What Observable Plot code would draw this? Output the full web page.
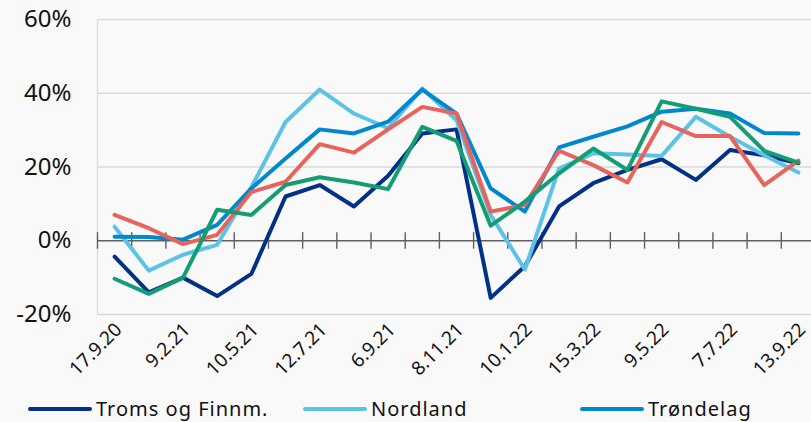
<!DOCTYPE html>
<html>
<head>
<meta charset="utf-8">
<script src="https://cdn.jsdelivr.net/npm/d3@7"></script>
<script src="https://cdn.jsdelivr.net/npm/@observablehq/plot@0.6"></script>
<style>
  html, body { margin: 0; padding: 0; background: #f9f9f9; overflow: hidden; }
  body { width: 811px; height: 422px; font-family: "Noto Sans", sans-serif; }
  #chart svg { display: block; }
  .legend { position: relative; height: 30px; font-size: 20px; line-height: 24px; color: #111; letter-spacing: 1px; }
  .item { position: absolute; top: 0; display: flex; align-items: center; white-space: nowrap; }
  .sw { width: 64px; height: 4px; border-radius: 2px; margin-right: 4px; }
</style>
</head>
<body>
<div id="chart"></div>
<div class="legend" id="legend"></div>
<script>
// Dates labelled on the axis (every second observation)
const tickLabels = ["17.9.20","9.2.21","10.5.21","12.7.21","6.9.21","8.11.21","10.1.22","15.3.22","9.5.22","7.7.22","13.9.22"];

// Series values (percent), 21 observations each
const tromsFinnmark = [-4.3, -14, -10, -15, -9, 12, 15.1, 9.3, 17.6, 29.1, 30.2, -15.5, -6.9, 9.3, 15.6, 19.2, 22.1, 16.5, 24.6, 23.2, 21];
const nordland      = [3.8, -8.1, -3.8, -1.1, 14.5, 32.2, 41, 34.5, 30.5, 41.3, 32.7, 7, -7.8, 19.6, 23.7, 23.4, 23, 33.6, 28.2, 23.2, 18.5];
const trondelag     = [1.1, 1.0, 0.3, 4.3, 14.2, 22.3, 30.2, 29.1, 32.3, 41, 34.5, 14.2, 7.9, 25.3, 28.2, 31, 35, 35.8, 34.5, 29.2, 29.1];
const serieRed      = [7.0, 3.4, -0.9, 1.6, 13.2, 16, 26.2, 23.9, 30.2, 36.3, 34.5, 7.9, 9.7, 24.4, 20.5, 15.8, 32.2, 28.4, 28.4, 15.1, 21.7];
const serieGreen    = [-10.3, -14.4, -10, 8.4, 7.0, 15.1, 17.2, 15.8, 14, 30.9, 27.1, 4.1, 10.6, 18.3, 25, 19.2, 37.8, 35.8, 33.6, 24.4, 21.2];

const seriesNames  = ["Troms og Finnm.", "Nordland", "Trøndelag", "red", "green"];
const seriesValues = [tromsFinnmark, nordland, trondelag, serieRed, serieGreen];
const seriesColors = ["#003087", "#5bc2e8", "#0088ce", "#e8635a", "#139d72"];
const legendNames  = ["Troms og Finnm.", "Nordland", "Trøndelag"];

const yTicks = [-20, 0, 20, 40, 60];

const n = tromsFinnmark.length;
const rows = seriesValues.flatMap((vals, s) => vals.map((v, i) => ({series: seriesNames[s], i, v})));
const boundaries = d3.range(n + 1).map(i => i - 0.5);
const labelIdx = tickLabels.map((_, k) => k * 2);

const plot = Plot.plot({
  width: 811,
  height: 397,
  marginTop: 19,
  marginBottom: 83,
  marginLeft: 97,
  marginRight: 0,
  style: {background: "transparent", fontFamily: "Noto Sans, sans-serif", color: "#111"},
  x: {type: "linear", domain: [-0.5, n - 0.5], range: [97, 815]},
  y: {domain: [-20, 60], range: [314, 19]},
  color: {domain: seriesNames, range: seriesColors},
  marks: [
    Plot.ruleY(yTicks.filter(d => d !== 0), {stroke: "#d9d9d9", strokeWidth: 1.3, x1: -0.5, x2: n - 0.5}),
    Plot.ruleX([-0.5], {stroke: "#d9d9d9", strokeWidth: 1.3, y1: -20, y2: 60}),
    Plot.axisY({ticks: yTicks, tickFormat: d => d + "%", tickSize: 0, tickPadding: 26, fontSize: 24, label: null}),
    Plot.axisX({ticks: labelIdx, tickFormat: i => tickLabels[i / 2], tickRotate: -45, tickSize: 0, tickPadding: 12, fontSize: 19, label: null, dx: 4}),
    Plot.ruleY([0], {stroke: "#5f5f5f", strokeWidth: 1.4, x1: -0.5, x2: n - 0.5}),
    Plot.ruleX(boundaries, {stroke: "#5f5f5f", strokeWidth: 1.4, y1: -2.3, y2: 2.2}),
    Plot.line(rows, {x: "i", y: "v", z: "series", stroke: "series", strokeWidth: 4, strokeLinejoin: "round", strokeLinecap: "round"})
  ]
});
document.getElementById("chart").appendChild(plot);

const legend = document.getElementById("legend");
const lefts = [28, 303, 580];
legendNames.forEach((name, k) => {
  const it = document.createElement("div");
  it.className = "item";
  it.style.left = lefts[k] + "px";
  const sw = document.createElement("span");
  sw.className = "sw";
  sw.style.background = seriesColors[k];
  const tx = document.createElement("span");
  tx.textContent = name;
  it.appendChild(sw); it.appendChild(tx);
  legend.appendChild(it);
});
</script>
</body>
</html>
